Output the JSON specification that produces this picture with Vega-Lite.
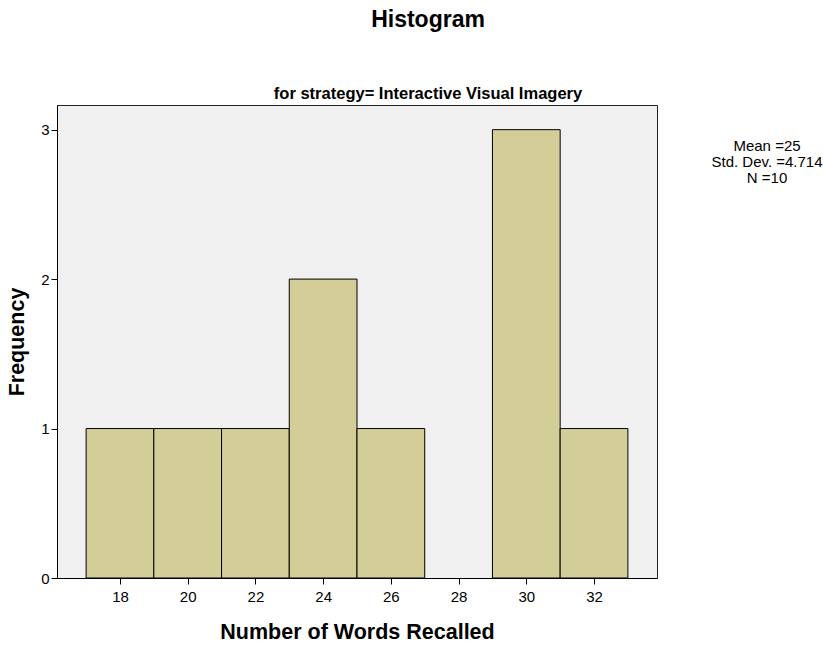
{
  "$schema": "https://vega.github.io/schema/vega-lite/v6.json",
  "width": 600,
  "height": 473,
  "autosize": {"type": "none"},
  "padding": {"left": 57, "top": 105, "right": 166, "bottom": 67},
  "background": "white",
  "view": {"fill": "#f0f0f0", "stroke": "#222222", "strokeWidth": 1},
  "title": {
    "text": "Histogram",
    "subtitle": "for strategy= Interactive Visual Imagery",
    "anchor": "middle",
    "frame": "group",
    "dx": 71,
    "offset": 3,
    "font": "Liberation Sans",
    "fontSize": 23,
    "fontWeight": "bold",
    "color": "black",
    "subtitleFont": "Liberation Sans",
    "subtitleFontSize": 16.5,
    "subtitleFontWeight": "bold",
    "subtitleColor": "black",
    "subtitlePadding": 54
  },
  "config": {
    "axis": {
      "labelFont": "Liberation Sans",
      "labelFontSize": 15,
      "labelColor": "black",
      "titleFont": "Liberation Sans",
      "titleFontSize": 21.5,
      "titleFontWeight": "bold",
      "titleColor": "black",
      "domainColor": "black",
      "tickColor": "black",
      "tickSize": 6,
      "grid": false
    }
  },
  "layer": [
    {
      "data": {
        "values": [
          {"bin_start": 17, "bin_end": 19, "count": 1},
          {"bin_start": 19, "bin_end": 21, "count": 1},
          {"bin_start": 21, "bin_end": 23, "count": 1},
          {"bin_start": 23, "bin_end": 25, "count": 2},
          {"bin_start": 25, "bin_end": 27, "count": 1},
          {"bin_start": 29, "bin_end": 31, "count": 3},
          {"bin_start": 31, "bin_end": 33, "count": 1}
        ]
      },
      "mark": {"type": "bar", "fill": "#d3ce98", "stroke": "black", "strokeWidth": 1, "binSpacing": 0},
      "encoding": {
        "x": {
          "field": "bin_start",
          "type": "quantitative",
          "scale": {"domain": [16.14, 33.86], "nice": false, "zero": false},
          "axis": {"values": [18, 20, 22, 24, 26, 28, 30, 32], "title": "Number of Words Recalled", "labelPadding": 5, "titlePadding": 17}
        },
        "x2": {"field": "bin_end"},
        "y": {
          "field": "count",
          "type": "quantitative",
          "scale": {"domain": [0, 3.165], "nice": false},
          "axis": {"values": [0, 1, 2, 3], "format": "d", "title": "Frequency", "labelPadding": 2, "titlePadding": 12}
        },
        "y2": {"datum": 0}
      }
    },
    {
      "data": {
        "values": [
          {"stat": "Mean =25"},
          {"stat": "Std. Dev. =4.714"},
          {"stat": "N =10"}
        ]
      },
      "mark": {"type": "point", "opacity": 0},
      "encoding": {
        "shape": {
          "field": "stat",
          "type": "nominal",
          "sort": null,
          "legend": {
            "title": null,
            "orient": "right",
            "offset": 0,
            "padding": 33,
            "symbolSize": 0,
            "symbolOpacity": 0,
            "symbolStrokeWidth": 0,
            "labelAlign": "center",
            "labelOffset": 62,
            "labelFont": "Liberation Sans",
            "labelFontSize": 15,
            "labelColor": "black",
            "rowPadding": 0,
            "labelLimit": 300
          }
        }
      }
    }
  ]
}
